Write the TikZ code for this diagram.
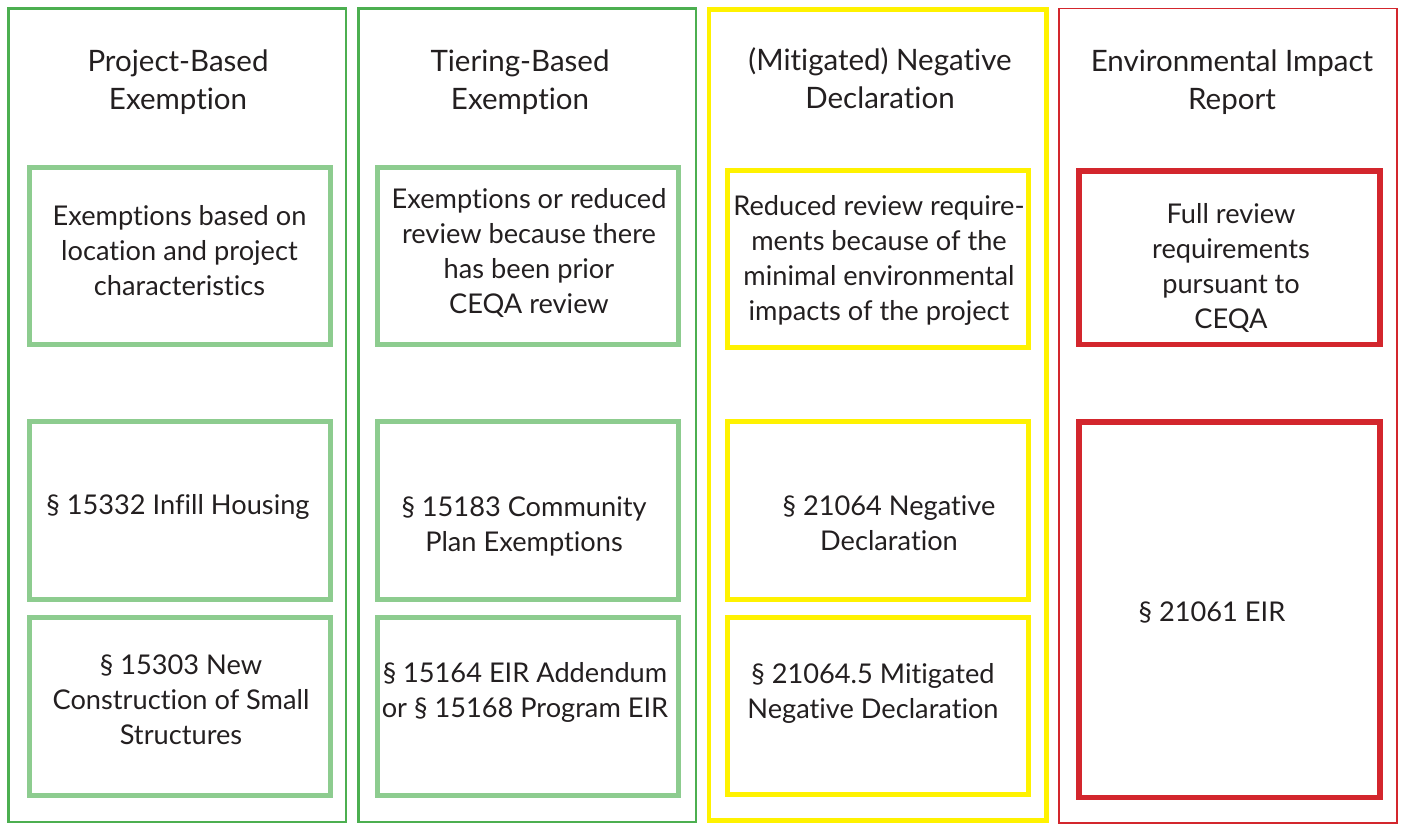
\documentclass[tikz,border=0pt]{standalone}
\usepackage{fontspec}
\setmainfont{Lato}[Ligatures={NoCommon,NoRare,NoDiscretionary}]
\usetikzlibrary{calc}
\definecolor{gdark}{RGB}{76,175,80}
\definecolor{glight}{RGB}{141,204,143}
\definecolor{yel}{RGB}{255,242,0}
\definecolor{redc}{RGB}{211,38,45}
\definecolor{txt}{RGB}{35,31,32}
\tikzset{
  col/.style={draw, rectangle, inner sep=0pt, minimum width=#1},
  colgreen/.style={col=337.5pt, minimum height=813.5pt, draw=gdark, line width=2.5pt},
  colyellow/.style={col=337.5pt, minimum height=811pt, draw=yel, line width=4.5pt},
  colred/.style={col=338pt, minimum height=814.5pt, draw=redc, line width=1.8pt},
  ibox/.style={draw, rectangle, inner sep=0pt, minimum width=301pt, line width=5pt},
  gbox/.style={ibox, draw=glight, minimum width=301pt},
  ybox/.style={ibox, draw=yel, minimum width=301pt},
  rbox/.style={ibox, draw=redc, minimum width=301pt, line width=5.5pt},
  title/.style={align=center, text=txt, font=\fontsize{29.5}{38}\selectfont, inner sep=0pt},
  body/.style={align=center, text=txt, font=\fontsize{27.2}{35}\selectfont, inner sep=0pt},
}
\begin{document}
\begin{tikzpicture}[x=1pt, y=-1pt]
\useasboundingbox (0,0) rectangle (1401,825);
% columns
\node[colgreen] (c1) at (177.25,415.25) {};
\node[colgreen] (c2) at (527.25,415.25) {};
\node[colyellow] (c3) at (877.75,415) {};
\node[colred] (c4) at (1228,415.75) {};
% titles
\node[title] (t1) at (178,82) {Project-Based\\Exemption};
\node[title] (t2) at (520,82) {Tiering-Based\\Exemption};
\node[title] (t3) at (880,78.5) {(Mitigated) Negative\\Declaration};
\node[title] (t4) at (1232,82) {Environmental Impact\\Report};
% column 1 boxes
\node[gbox, minimum height=177pt] (b11) at (180,256) {};
\node[gbox, minimum height=178pt] (b12) at (180,510.5) {};
\node[gbox, minimum height=178pt] (b13) at (180,706.5) {};
% column 2 boxes
\node[gbox, minimum height=177pt] (b21) at (527.5,256) {};
\node[gbox, minimum height=178pt] (b22) at (527.5,510.5) {};
\node[gbox, minimum height=178pt] (b23) at (527.5,706.5) {};
% column 3 boxes
\node[ybox, minimum height=176.5pt] (b31) at (878,258.75) {};
\node[ybox, minimum height=178pt] (b32) at (878,510.5) {};
\node[ybox, minimum height=177pt] (b33) at (878,706) {};
% column 4 boxes
\node[rbox, minimum height=173.5pt] (b41) at (1229.5,257.75) {};
\node[rbox, minimum height=375.5pt] (b42) at (1229.5,609.75) {};
% texts
\node[body] (x11) at (179.5,251) {Exemptions based on\\location and project\\characteristics};
\node[body] (x12) at (178,507) {\S\ 15332 Infill Housing};
\node[body] (x13) at (181,700) {\S\ 15303 New\\Construction of Small\\Structures};
\node[body] (x21) at (529,252.5) {Exemptions or reduced\\review because there\\has been prior\\CEQA review};
\node[body] (x22) at (524,526.5) {\S\ 15183 Community\\Plan Exemptions};
\node[body] (x23) at (525,692) {\S\ 15164 EIR Addendum\\or \S\ 15168 Program EIR};
\node[body] (x31) at (879,260.5) {Reduced review require-\\ments because of the\\minimal environmental\\impacts of the project};
\node[body] (x32) at (889,523) {\S\ 21064 Negative\\Declaration};
\node[body] (x33) at (873,693) {\S\ 21064.5 Mitigated\\Negative Declaration};
\node[body] (x41) at (1231,268) {Full review\\requirements\\pursuant to\\CEQA};
\node[body] (x42) at (1212,612) {\S\ 21061 EIR};
\end{tikzpicture}
\end{document}
